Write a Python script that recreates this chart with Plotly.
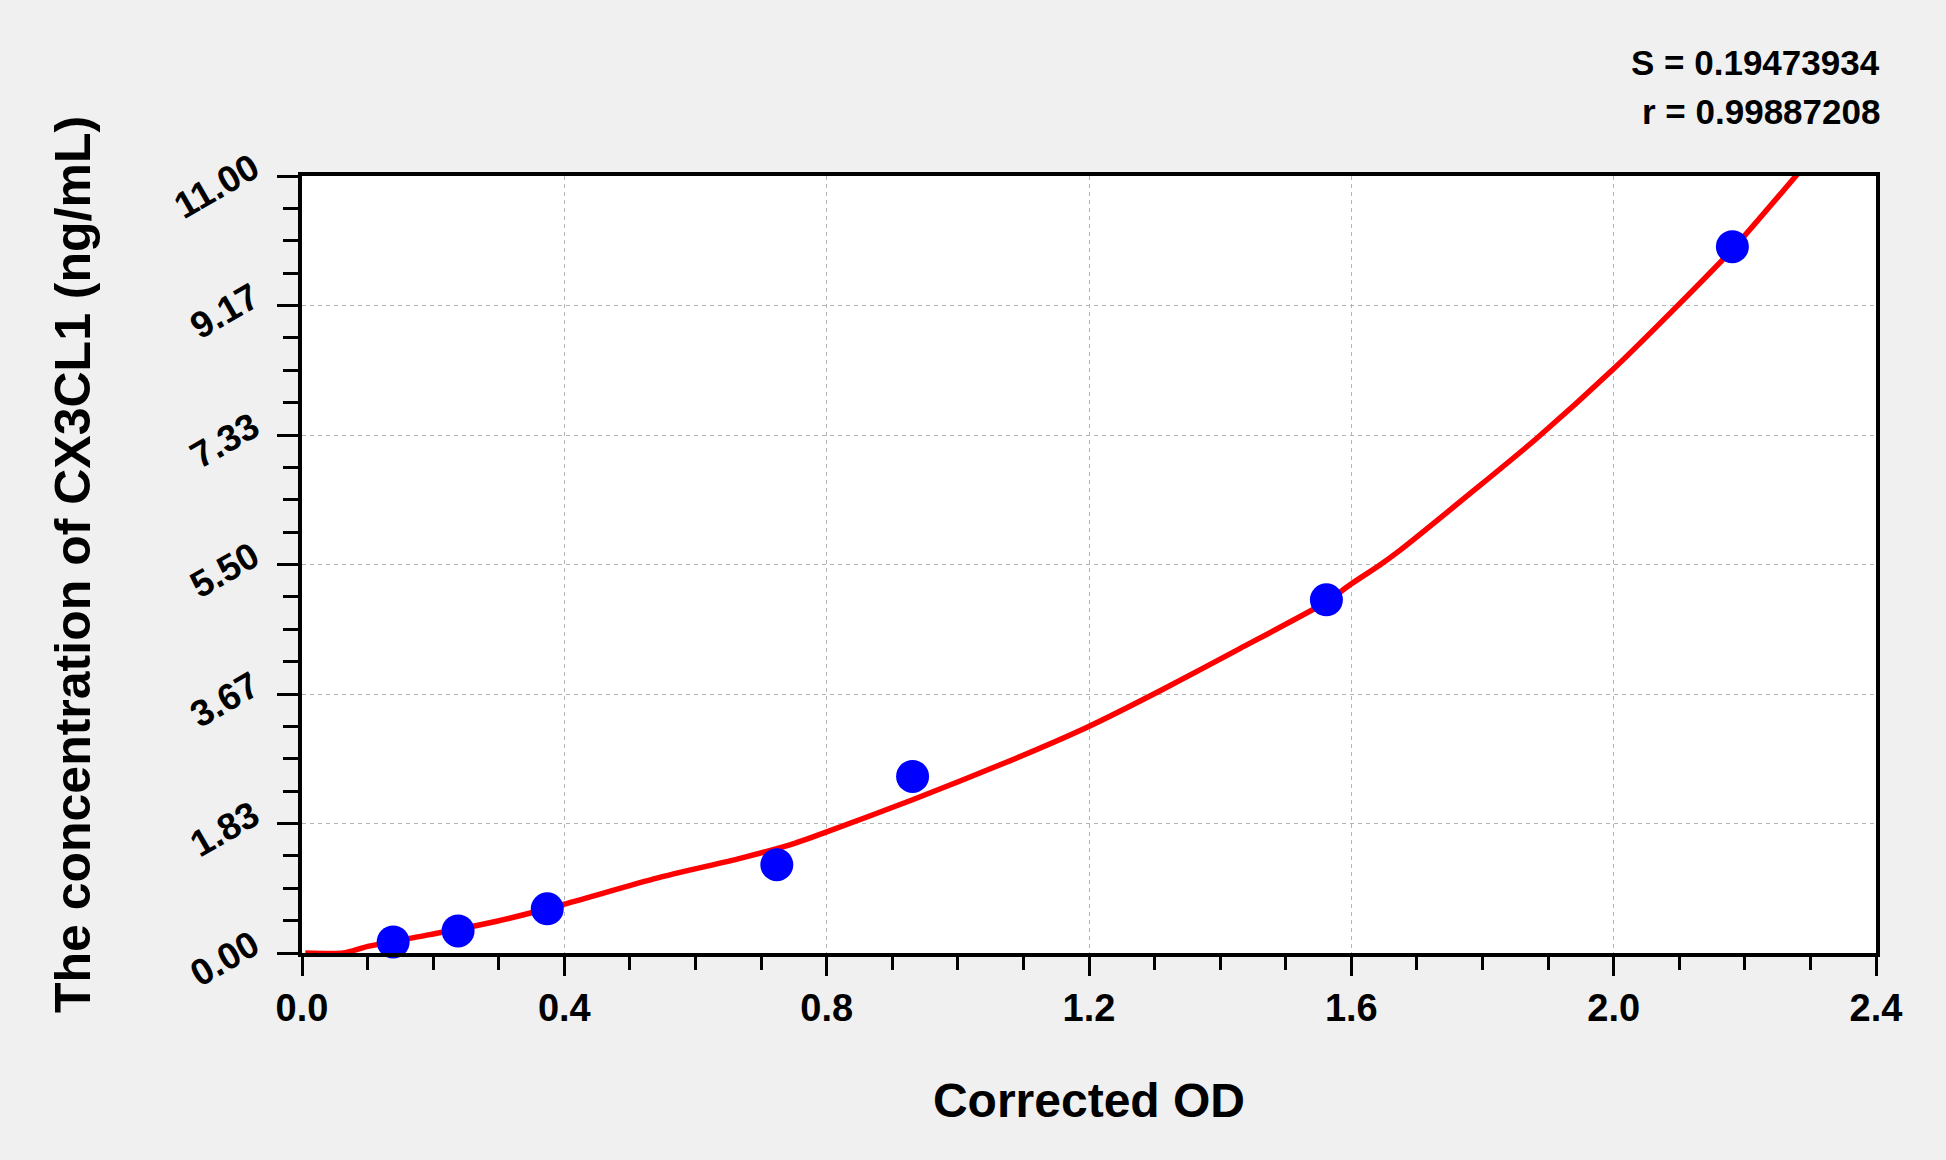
import plotly.graph_objects as go

# standards (corrected OD vs concentration)
od_points   = [0.139, 0.238, 0.374, 0.724, 0.931, 1.562, 2.181]
conc_points = [0.156, 0.3125, 0.625, 1.25, 2.5, 5.0, 10.0]

# fitted curve
od_fit   = [0.005, 0.063, 0.099, 0.195, 0.297, 0.395, 0.541, 0.668, 0.744, 0.796,
            0.931, 1.074, 1.198, 1.310, 1.430, 1.562, 1.599, 1.643, 1.674, 1.791,
            1.882, 2.000, 2.096, 2.182, 2.286]
conc_fit = [0.00, 0.00, 0.09, 0.26, 0.45, 0.68, 1.06, 1.34, 1.53, 1.70,
            2.17, 2.70, 3.20, 3.72, 4.31, 4.97, 5.22, 5.49, 5.70, 6.58,
            7.28, 8.27, 9.15, 9.97, 11.09]

y_tickvals = [0.0, 11 / 6, 11 / 3, 5.5, 22 / 3, 55 / 6, 11.0]
y_ticktext = ["0.00", "1.83", "3.67", "5.50", "7.33", "9.17", "11.00"]

stats = ["S = 0.19473934", "r = 0.99887208"]

FONT = "Liberation Sans, Arial, sans-serif"

fig = go.Figure()

fig.add_trace(go.Scatter(x=od_fit, y=conc_fit, mode="lines",
                         line=dict(color="#ff0000", width=5.5, shape="spline", smoothing=0.6),
                         cliponaxis=False, hoverinfo="skip"))

fig.add_trace(go.Scatter(x=od_points, y=conc_points, mode="markers",
                         marker=dict(color="#0000ff", size=33),
                         cliponaxis=False))

axis_common = dict(showline=True, linecolor="black", linewidth=3.5, mirror=True,
                   ticks="outside", tickcolor="black", tickwidth=3,
                   showgrid=True, gridcolor="#b4b4b4", gridwidth=1,
                   griddash="4px,4px", zeroline=False)

fig.update_xaxes(range=[0, 2.4], dtick=0.4, tick0=0, tickformat=".1f",
                 ticklen=19, ticklabelstandoff=0,
                 tickfont=dict(family=FONT, size=38, color="black", weight="bold"),
                 minor=dict(dtick=0.1, ticklen=13, tickwidth=3, tickcolor="black",
                            ticks="outside", showgrid=False),
                 title=dict(text="Corrected OD", standoff=56,
                            font=dict(family=FONT, size=48, color="black", weight="bold")),
                 **axis_common)

fig.update_yaxes(range=[0, 11], tickvals=y_tickvals, ticktext=y_ticktext,
                 ticklen=21, tickangle=-30, ticklabelstandoff=17, ticklabelshift=-12,
                 tickfont=dict(family=FONT, size=37, color="black", weight="bold"),
                 minor=dict(tickvals=[i * 11 / 24 for i in range(25)], ticklen=15,
                            tickwidth=3, tickcolor="black", ticks="outside",
                            showgrid=False),
                 title=dict(text="The concentration of CX3CL1 (ng/mL)", standoff=62,
                            font=dict(family=FONT, size=50, color="black", weight="bold")),
                 **axis_common)

fig.add_annotation(text=stats[0], xref="paper", yref="paper", x=1.004, y=1.1455,
                   xanchor="right", yanchor="middle", showarrow=False,
                   font=dict(family=FONT, size=35, color="black", weight="bold"))
fig.add_annotation(text=stats[1], xref="paper", yref="paper", x=1.004, y=1.0824,
                   xanchor="right", yanchor="middle", showarrow=False,
                   font=dict(family=FONT, size=35, color="black", weight="bold"))

fig.update_layout(width=1946, height=1160,
                  margin=dict(l=302, r=70, t=176, b=207, autoexpand=False),
                  paper_bgcolor="#f0f0f0", plot_bgcolor="white",
                  showlegend=False)

fig.write_html("out.html", config={"displayModeBar": False},
               post_script="document.body.style.margin='0';")
